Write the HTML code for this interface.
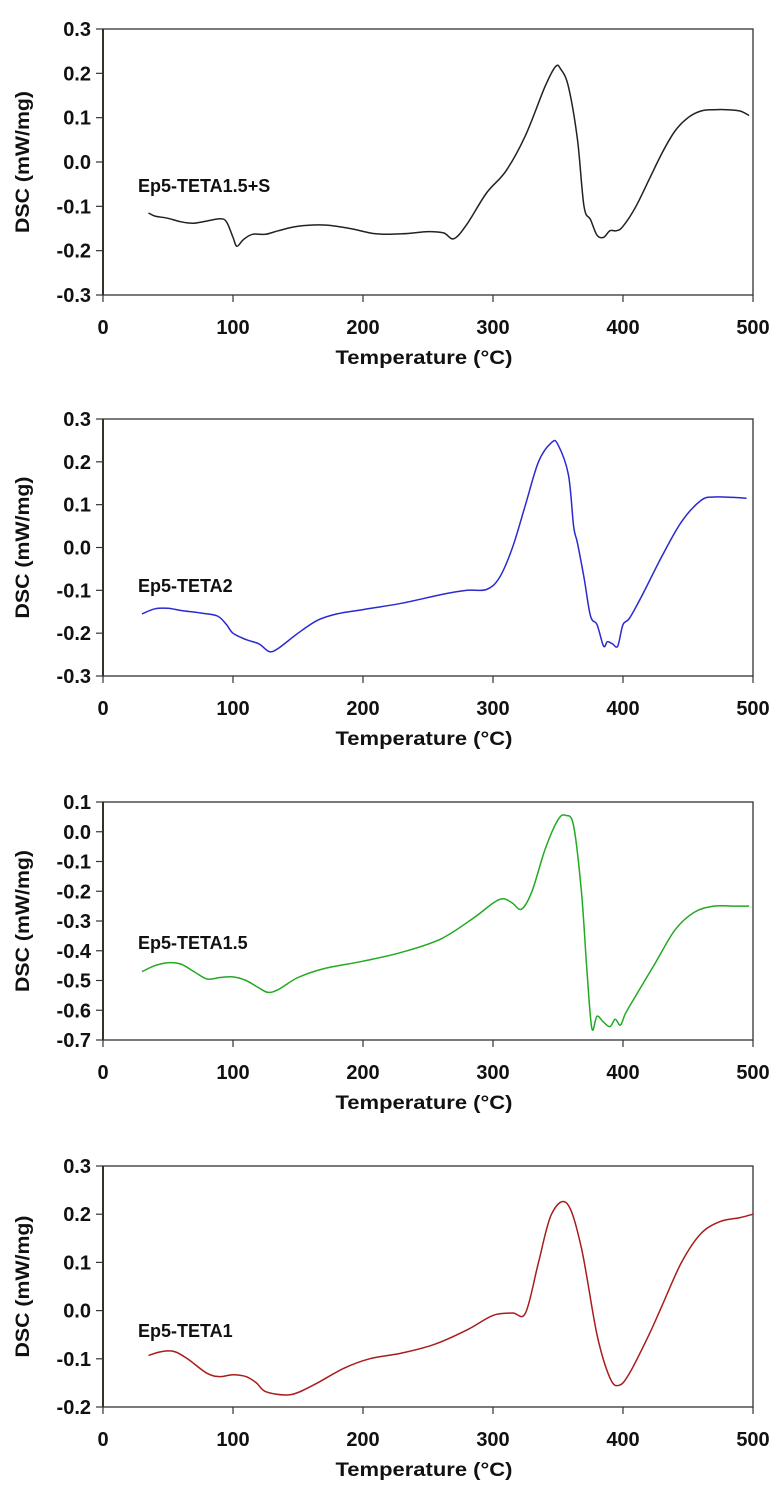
<!DOCTYPE html>
<html><head><meta charset="utf-8"><style>
html,body{margin:0;padding:0;background:#fff;}
svg text{font-family:"Liberation Sans",Arial,sans-serif;font-weight:bold;fill:#111;}
</style></head><body>
<svg id="fig" width="781" height="1493" viewBox="0 0 781 1493" xmlns="http://www.w3.org/2000/svg"></svg>
<script>
const xTicks=[0,100,200,300,400,500];
const ticks1=[0.3,0.2,0.1,0.0,-0.1,-0.2,-0.3];
const ticks2=[0.3,0.2,0.1,0.0,-0.1,-0.2,-0.3];
const ticks3=[0.1,0.0,-0.1,-0.2,-0.3,-0.4,-0.5,-0.6,-0.7];
const ticks4=[0.3,0.2,0.1,0.0,-0.1,-0.2];
const t1=[35,40,50,60,70,80,90,95,100,103,108,115,125,135,150,170,190,210,230,250,262,270,280,295,310,325,340,348,352,358,365,370,375,380,385,390,395,400,410,420,430,440,450,460,470,480,490,497];
const v1=[-0.115,-0.122,-0.127,-0.135,-0.138,-0.133,-0.128,-0.135,-0.17,-0.19,-0.175,-0.163,-0.163,-0.155,-0.145,-0.142,-0.15,-0.162,-0.162,-0.157,-0.16,-0.173,-0.14,-0.07,-0.02,0.06,0.17,0.215,0.21,0.17,0.05,-0.1,-0.13,-0.165,-0.17,-0.155,-0.155,-0.145,-0.1,-0.04,0.02,0.07,0.1,0.115,0.118,0.118,0.115,0.105];
const t2=[30,40,50,60,75,88,95,100,110,120,128,135,150,165,180,200,230,260,280,295,305,315,325,335,345,350,358,362,365,370,375,380,385,388,392,396,400,405,415,430,445,460,470,485,495];
const v2=[-0.155,-0.143,-0.142,-0.147,-0.153,-0.16,-0.18,-0.2,-0.215,-0.225,-0.243,-0.235,-0.2,-0.17,-0.155,-0.145,-0.13,-0.11,-0.1,-0.098,-0.07,0.0,0.1,0.2,0.245,0.24,0.17,0.05,0.01,-0.07,-0.16,-0.18,-0.23,-0.22,-0.225,-0.23,-0.18,-0.165,-0.11,-0.02,0.06,0.11,0.118,0.117,0.115];
const t3=[30,40,50,60,70,80,90,100,110,120,127,135,150,170,200,230,260,285,300,308,315,322,330,340,350,356,362,368,372,376,380,385,390,394,398,402,410,425,440,455,470,485,497];
const v3=[-0.47,-0.45,-0.44,-0.445,-0.47,-0.495,-0.49,-0.488,-0.5,-0.525,-0.54,-0.53,-0.49,-0.46,-0.435,-0.405,-0.36,-0.29,-0.24,-0.225,-0.24,-0.26,-0.2,-0.06,0.04,0.055,0.02,-0.2,-0.45,-0.66,-0.62,-0.64,-0.655,-0.63,-0.65,-0.61,-0.55,-0.44,-0.33,-0.27,-0.25,-0.25,-0.25];
const t4=[35,45,55,65,80,90,100,110,118,125,140,150,165,185,205,230,255,280,300,315,325,335,345,357,368,380,390,397,405,420,430,445,460,475,490,500];
const v4=[-0.093,-0.085,-0.085,-0.1,-0.13,-0.137,-0.133,-0.137,-0.15,-0.168,-0.175,-0.17,-0.15,-0.12,-0.1,-0.088,-0.07,-0.04,-0.01,-0.005,-0.005,0.1,0.2,0.222,0.13,-0.05,-0.14,-0.155,-0.13,-0.05,0.01,0.1,0.16,0.185,0.193,0.2];

const NS='http://www.w3.org/2000/svg';
const svg=document.getElementById('fig');
function mk(tag,attrs,parent){const e=document.createElementNS(NS,tag);for(const k in attrs)e.setAttribute(k,attrs[k]);(parent||svg).appendChild(e);return e;}
const X0=103,X1=753;
function xs(v){return X0+(v-0)/(500-0)*(X1-X0);}
const panels=[
 {t:t1,v:v1,ticks:ticks1,top:29,bot:295,color:'#222222',label:'Ep5-TETA1.5+S',ly:192,name:'ep5-teta1-5-s'},
 {t:t2,v:v2,ticks:ticks2,top:419,bot:676,color:'#2a2ad0',label:'Ep5-TETA2',ly:592,name:'ep5-teta2'},
 {t:t3,v:v3,ticks:ticks3,top:802,bot:1040,color:'#22aa22',label:'Ep5-TETA1.5',ly:949,name:'ep5-teta1-5'},
 {t:t4,v:v4,ticks:ticks4,top:1166,bot:1407,color:'#a81c1c',label:'Ep5-TETA1',ly:1337,name:'ep5-teta1'}
];
panels.forEach((p,i)=>{
 const g=mk('g',{});
 
 
 const ymax=p.ticks[0],ymin=p.ticks[p.ticks.length-1];
 const ys=v=>p.top+(ymax-v)/(ymax-ymin)*(p.bot-p.top);
 const frame=mk('rect',{x:X0,y:p.top,width:X1-X0,height:p.bot-p.top,fill:'none',stroke:'#333',"stroke-width":1.3},g);
 
 
 mk('line',{x1:X0,y1:p.top,x2:X0,y2:p.bot,stroke:'#333322',"stroke-width":2},g);
 p.ticks.forEach(tv=>{
  const y=ys(tv);
  mk('line',{x1:X0-7,y1:y,x2:X0,y2:y,stroke:'#333',"stroke-width":1.2},g);
  const tx=mk('text',{x:X0-12,y:y+7,"text-anchor":"end","font-size":20},g);
  tx.textContent=tv.toFixed(1);
  
  
 });
 xTicks.forEach(tv=>{
  const x=xs(tv);
  mk('line',{x1:x,y1:p.bot,x2:x,y2:p.bot+7,stroke:'#333',"stroke-width":1.2},g);
  const tx=mk('text',{x:x,y:p.bot+39,"text-anchor":"middle","font-size":20},g);
  tx.textContent=tv;
  
  
 });
 const xt=mk('text',{x:424,y:p.bot+69,"text-anchor":"middle","font-size":19,textLength:177,lengthAdjust:"spacingAndGlyphs"},g);
 xt.textContent='Temperature (°C)';
 
 
 const cy=(p.top+p.bot)/2;
 const yt=mk('text',{x:0,y:0,"text-anchor":"middle","font-size":19,textLength:142,lengthAdjust:"spacingAndGlyphs",transform:`translate(29,${cy}) rotate(-90)`},g);
 yt.textContent='DSC (mW/mg)';
 
 
 const lb=mk('text',{x:138,y:p.ly,"font-size":18},g);
 lb.textContent=p.label;
 
 
 const pts=p.t.map((t,k)=>[xs(t),ys(p.v[k])]);
 let d='M'+pts[0][0].toFixed(1)+','+pts[0][1].toFixed(1);
 for(let k=0;k<pts.length-1;k++){
  const p0=pts[Math.max(0,k-1)],p1=pts[k],p2=pts[k+1],p3=pts[Math.min(pts.length-1,k+2)];
  const c1x=p1[0]+(p2[0]-p0[0])/6,c1y=p1[1]+(p2[1]-p0[1])/6;
  const c2x=p2[0]-(p3[0]-p1[0])/6,c2y=p2[1]-(p3[1]-p1[1])/6;
  d+=` C${c1x.toFixed(1)},${c1y.toFixed(1)} ${c2x.toFixed(1)},${c2y.toFixed(1)} ${p2[0].toFixed(1)},${p2[1].toFixed(1)}`;
 }
 const line=mk('path',{d:d,fill:'none',stroke:p.color,"stroke-width":1.5},g);
 
 
});
</script>
</body></html>
